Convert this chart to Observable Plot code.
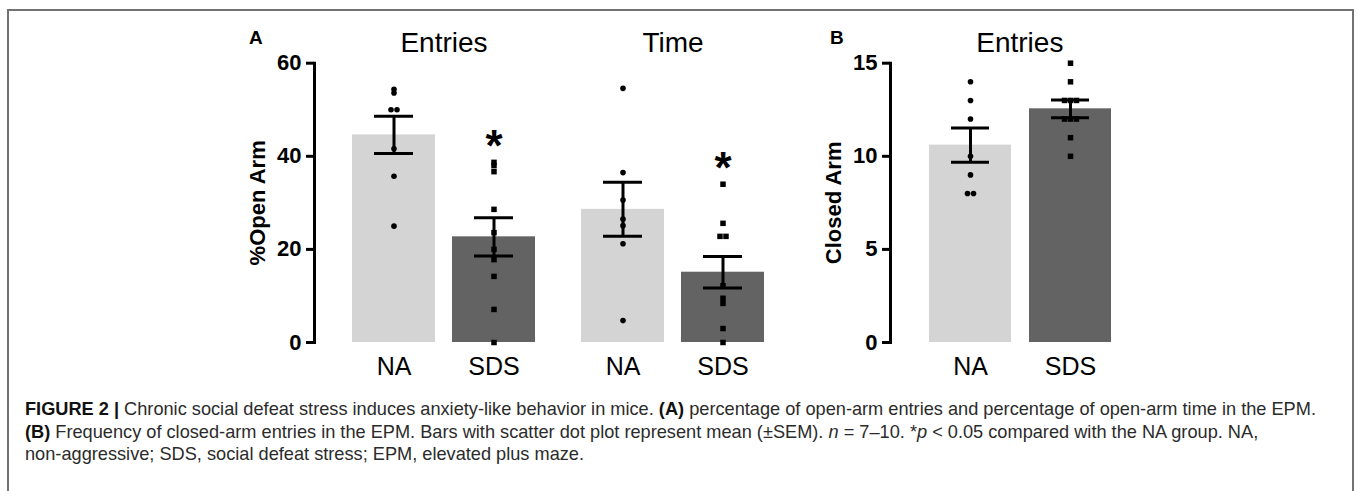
<!DOCTYPE html>
<html>
<head>
<meta charset="utf-8">
<script src="https://cdn.jsdelivr.net/npm/d3@7"></script>
<script src="https://cdn.jsdelivr.net/npm/@observablehq/plot@0.6"></script>
<style>
  body { margin: 0; background: #fff; font-family: "Liberation Sans", Arial, sans-serif; }
  #page { position: relative; width: 1357px; height: 491px; overflow: hidden; background: #fff; }
  #frame { position: absolute; left: 7px; top: 9px; width: 1347px; height: 540px; border: 2px solid #727272; box-sizing: border-box; }
  .panel { position: absolute; }
  .panel svg { overflow: visible; font-family: "Liberation Sans", Arial, sans-serif; }
  div.tag { position: absolute; font-weight: bold; font-size: 19px; line-height: 19px; color: #000; font-family: "Liberation Sans", Arial, sans-serif; z-index: 5; }
  #caption { position: absolute; left: 25px; top: 398px; width: 1325px; font-size: 18.2px; line-height: 22.5px; color: #2b2b2b; white-space: nowrap; }
  #caption b { color: #111; }
</style>
</head>
<body>
<div id="page">
  <div id="frame"></div>
  <div class="panel" id="panelA" style="left:200px;top:20px;"></div>
  <div class="panel" id="panelB" style="left:780px;top:20px;"></div>
  <div class="tag" style="left:249px;top:28px;font-size:19px;">A</div>
  <div class="tag" style="left:830px;top:28px;font-size:19px;">B</div>
  <div id="caption"><b>FIGURE 2 |</b> Chronic social defeat stress induces anxiety-like behavior in mice. <b>(A)</b> percentage of open-arm entries and percentage of open-arm time in the EPM.<br><b>(B)</b> Frequency of closed-arm entries in the EPM. Bars with scatter dot plot represent mean (±SEM). <i>n</i> = 7–10. *<i>p</i> &lt; 0.05 compared with the NA group. NA,<br>non-aggressive; SDS, social defeat stress; EPM, elevated plus maze.</div>
</div>
<script>
// ---------- data ----------
const groups = ["NA", "SDS"];
const panelATitles = ["Entries", "Time"];
const panelBTitle = "Entries";
const yLabelA = "%Open Arm";
const yLabelB = "Closed Arm";
const yTicksA = [0, 20, 40, 60];
const yTicksB = [0, 5, 10, 15];

const entriesNA  = [54.4, 53.6, 50, 50, 41.6, 35.7, 25.0];
const entriesSDS = [38.7, 38.0, 36.7, 28.6, 23.6, 20.0, 17.8, 14.2, 7.1, 0];
const timeNA     = [54.6, 36.5, 30.6, 26.5, 25.1, 21.2, 4.7];
const timeSDS    = [34.0, 25.6, 22.8, 22.8, 12.2, 9.5, 8.4, 3.0, 0];
const closedNA   = [14, 13, 12, 10, 9, 8, 8];
const closedSDS  = [15, 14, 13, 13, 13, 12, 12, 12, 11, 10];

const entriesMean = [44.6, 22.7];
const entriesSEM  = [4.0, 4.1];
const timeMean    = [28.6, 15.1];
const timeSEM     = [5.8, 3.4];
const closedMean  = [10.6, 12.55];
const closedSEM   = [0.92, 0.48];

const significantA = [["Entries", "SDS"], ["Time", "SDS"]];

const barColors = ["#d4d4d4", "#636363"];
const symbols = ["circle", "square"];

// ---------- layout ----------
const A = {width: 600, height: 360, mt: 42.7, mb: 38, ml: 114, mr: 28, max: 60};
const B = {width: 360, height: 360, mt: 42.7, mb: 38, ml: 110, mr: 21.3, max: 15};
const font = "Liberation Sans, Arial, sans-serif";

// spread near-coincident points horizontally (scatter dot plot)
function spread(values, pxPerUnit) {
  const sorted = values.slice().sort((a, b) => b - a);
  const out = [];
  let cluster = [];
  const flush = () => {
    const k = cluster.length;
    cluster.forEach((v, i) => out.push({value: v, off: (i - (k - 1) / 2) * 6}));
    cluster = [];
  };
  for (const v of sorted) {
    if (cluster.length && (cluster[cluster.length - 1] - v) * pxPerUnit >= 3) flush();
    cluster.push(v);
  }
  flush();
  return out;
}

function dotMarks(points, extra) {
  const byOff = d3.group(points, d => d.off);
  const marks = [];
  for (const [off, pts] of byOff) {
    for (const sym of symbols) {
      const sub = pts.filter(d => d.symbol === sym);
      if (!sub.length) continue;
      marks.push(Plot.dot(sub, {...extra, x: "group", y: "value", symbol: sym, r: sym === "square" ? 3.1 : 2.8, fill: "black", stroke: "none", dx: off}));
    }
  }
  return marks;
}

function errorMarks(data, extra, inset) {
  return [
    Plot.ruleX(data, {...extra, x: "group", y1: d => d.mean - d.sem, y2: d => d.mean + d.sem, stroke: "black", strokeWidth: 3}),
    Plot.tickY(data, {...extra, x: "group", y: d => d.mean + d.sem, stroke: "black", strokeWidth: 3, inset}),
    Plot.tickY(data, {...extra, x: "group", y: d => d.mean - d.sem, stroke: "black", strokeWidth: 3, inset})
  ];
}

function yAxisMarks(ticks, label) {
  return [
    Plot.frame({anchor: "left", facetAnchor: "left", stroke: "black", strokeWidth: 3}),
    Plot.axisY({ticks, tickSize: 8, tickPadding: 5, stroke: "black", strokeWidth: 3, fontSize: 22, fontWeight: "bold", fill: "black",
      label, labelAnchor: "center", labelOffset: 65, labelArrow: "none", tickFormat: d => d})
  ];
}

// ---------- Panel A ----------
const pxA = (A.height - A.mt - A.mb) / A.max;
const meansA = [entriesMean, timeMean], semsA = [entriesSEM, timeSEM];
const pointsRawA = [[entriesNA, entriesSDS], [timeNA, timeSDS]];
const barsA = panelATitles.flatMap((t, i) => groups.map((g, j) => ({panel: t, group: g, mean: meansA[i][j], sem: semsA[i][j]})));
const pointsA = panelATitles.flatMap((t, i) => groups.flatMap((g, j) =>
  spread(pointsRawA[i][j], pxA).map(p => ({...p, panel: t, group: g, symbol: symbols[j]}))));
const starsA = significantA.map(([t, g]) => {
  const i = panelATitles.indexOf(t), j = groups.indexOf(g);
  return {panel: t, group: g, y: d3.max(pointsRawA[i][j]) + 5.4};
});

const plotA = Plot.plot({
  width: A.width, height: A.height,
  marginTop: A.mt, marginBottom: A.mb, marginLeft: A.ml, marginRight: A.mr,
  style: {fontFamily: font, background: "transparent", overflow: "visible"},
  fx: {domain: panelATitles, padding: 0, axis: null},
  x: {domain: groups, paddingInner: 0.17, paddingOuter: 0.23, align: 0.82},
  y: {domain: [0, A.max]},
  color: {domain: groups, range: barColors},
  marks: [
    Plot.barY(barsA, {fx: "panel", x: "group", y: "mean", fill: "group"}),
    ...errorMarks(barsA, {fx: "panel"}, 22),
    ...dotMarks(pointsA, {fx: "panel"}),
    Plot.text(starsA, {fx: "panel", x: "group", y: "y", text: () => "*", fontSize: 44, fontWeight: "bold", lineAnchor: "bottom", dy: 24, fill: "black"}),
    Plot.text(panelATitles, {fx: d => d, text: d => d, frameAnchor: "top", lineAnchor: "bottom", dy: -11, dx: 15, fontSize: 28, fill: "black"}),
    ...yAxisMarks(yTicksA, yLabelA),
    Plot.axisX({tickSize: 0, tickPadding: 15, fontSize: 25, label: null, fill: "black"})
  ]
});
document.getElementById("panelA").appendChild(plotA);

// ---------- Panel B ----------
const pxB = (B.height - B.mt - B.mb) / B.max;
const barsB = groups.map((g, j) => ({group: g, mean: closedMean[j], sem: closedSEM[j]}));
const pointsRawB = [closedNA, closedSDS];
const pointsB = groups.flatMap((g, j) => spread(pointsRawB[j], pxB).map(p => ({...p, group: g, symbol: symbols[j]})));

const plotB = Plot.plot({
  width: B.width, height: B.height,
  marginTop: B.mt, marginBottom: B.mb, marginLeft: B.ml, marginRight: B.mr,
  style: {fontFamily: font, background: "transparent", overflow: "visible"},
  x: {domain: groups, paddingInner: 0.18, paddingOuter: 0.227, align: 0.825},
  y: {domain: [0, B.max]},
  color: {domain: groups, range: barColors},
  marks: [
    Plot.barY(barsB, {x: "group", y: "mean", fill: "group"}),
    ...errorMarks(barsB, {}, 22),
    ...dotMarks(pointsB, {}),
    Plot.text([panelBTitle], {text: d => d, frameAnchor: "top", lineAnchor: "bottom", dy: -11, dx: 15, fontSize: 28, fill: "black"}),
    ...yAxisMarks(yTicksB, yLabelB),
    Plot.axisX({tickSize: 0, tickPadding: 15, fontSize: 25, label: null, fill: "black"})
  ]
});
document.getElementById("panelB").appendChild(plotB);
</script>
</body>
</html>
